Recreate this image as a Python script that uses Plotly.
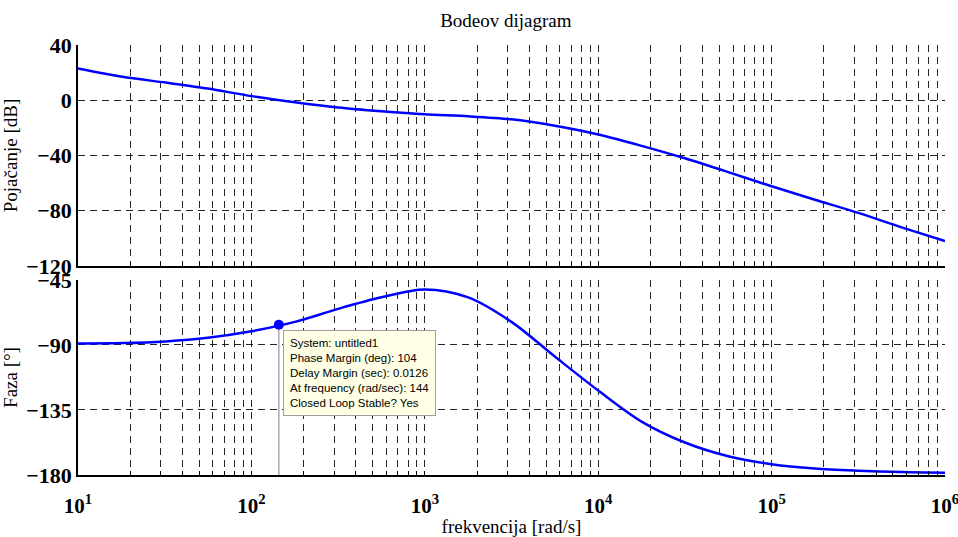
import math
import plotly.graph_objects as go

# Frequency response samples (rad/s), quarter-decade spacing
freq = [10, 18, 32, 56, 100, 178, 316, 562, 1000, 1778, 3162, 5623, 10000,
        17783, 31623, 56234, 100000, 177828, 316228, 562341, 1000000]
mag_db = [23, 17, 12.8, 8.5, 3, -1.5, -5.3, -8, -10.2, -11.6, -13.8, -18.5, -24.8,
          -33, -42, -52, -62.3, -72, -81.5, -92, -102]
phase_deg = [-89, -88.7, -87.5, -85, -80.5, -74, -65, -57, -51.5, -57, -74, -98,
             -121.5, -143, -157.5, -167, -172.5, -175.5, -177, -178, -178.5]

# Stability margin readout
system_name = "untitled1"
crossover_freq = 144
phase_margin = 104
delay_margin = 0.0126

# Axis ticks
decades = [1, 2, 3, 4, 5, 6]
mag_ticks = [40, 0, -40, -80, -120]
phase_ticks = [-45, -90, -135, -180]

x_tickvals, x_ticktext = [], []
for d in decades:
    for m in range(1, 10):
        if d == decades[-1] and m > 1:
            break
        x_tickvals.append(m * 10 ** d)
        x_ticktext.append(f"10<sup>{d}</sup>" if m == 1 else "")

serif = "Liberation Serif"
line_blue = "#0000FF"
grid = dict(showgrid=True, gridcolor="rgba(0,0,0,0.85)", gridwidth=1, griddash="7px,5px")

fig = go.Figure()
fig.add_trace(go.Scatter(x=freq, y=mag_db, mode="lines",
                         line=dict(color=line_blue, width=2.5, shape="spline", smoothing=0.8),
                         xaxis="x", yaxis="y", showlegend=False))
fig.add_trace(go.Scatter(x=freq, y=phase_deg, mode="lines",
                         line=dict(color=line_blue, width=2.5, shape="spline", smoothing=0.9),
                         xaxis="x2", yaxis="y2", showlegend=False))

marker_phase = phase_margin - 180
# Drop line from the phase-margin point to the axis
fig.add_trace(go.Scatter(x=[crossover_freq, crossover_freq], y=[marker_phase, phase_ticks[-1]], mode="lines",
                         line=dict(color="#808080", width=1), xaxis="x2", yaxis="y2", showlegend=False))
fig.add_trace(go.Scatter(x=[crossover_freq], y=[marker_phase], mode="markers",
                         marker=dict(color=line_blue, size=10), xaxis="x2", yaxis="y2", showlegend=False))

info = "<br>".join([
    f"System: {system_name}",
    f"Phase Margin (deg): {phase_margin}",
    f"Delay Margin (sec): {delay_margin}",
    f"At frequency (rad/sec): {crossover_freq}",
    "Closed Loop Stable? Yes",
])
fig.add_annotation(x=math.log10(crossover_freq), y=marker_phase, xref="x2", yref="y2",
                   text=info, showarrow=False, xanchor="left", yanchor="top", align="left",
                   xshift=4, yshift=-5, bgcolor="#FFFFE6", bordercolor="#A0A0A0", borderwidth=1,
                   borderpad=6, font=dict(family="Liberation Sans", size=11.5, color="black"))

xcommon = dict(type="log", range=[1, 6], tickvals=x_tickvals, ticktext=x_ticktext, automargin=False,
               showline=True, linecolor="black", linewidth=1.5, ticks="inside", ticklen=4,
               tickcolor="black", zeroline=False, **grid)
ycommon = dict(showline=True, linecolor="black", linewidth=1.5, ticks="", zeroline=False, automargin=False,
               tickfont=dict(family=serif, size=22, color="black", weight="bold"), **grid)

fig.update_layout(
    width=958, height=537,
    margin=dict(l=78, r=13, t=45, b=62),
    paper_bgcolor="white", plot_bgcolor="white",
    title=dict(text="Bodeov dijagram", x=0.528, xanchor="center", y=1 - 20 / 537, yanchor="middle",
               font=dict(family=serif, size=19, color="black")),
    xaxis=dict(domain=[0, 1], anchor="y", showticklabels=False, **xcommon),
    yaxis=dict(domain=[0.486, 1], anchor="x", range=[-120, 40], tickvals=mag_ticks,
               title=dict(text="Pojačanje [dB]", standoff=4, font=dict(family=serif, size=19, color="black")),
               **ycommon),
    xaxis2=dict(domain=[0, 1], anchor="y2", matches="x", ticklabelstandoff=11,
                ticklabeloverflow="allow",
                tickfont=dict(family=serif, size=21, color="black", weight="bold"),
                title=dict(text="frekvencija [rad/s]", standoff=6, font=dict(family=serif, size=19, color="black")),
                **xcommon),
    yaxis2=dict(domain=[0, 0.4535], anchor="x2", range=[-180, -45], tickvals=phase_ticks,
                title=dict(text="Faza [°]", standoff=4, font=dict(family=serif, size=19, color="black")),
                **ycommon),
)

fig.write_html("out.html")
